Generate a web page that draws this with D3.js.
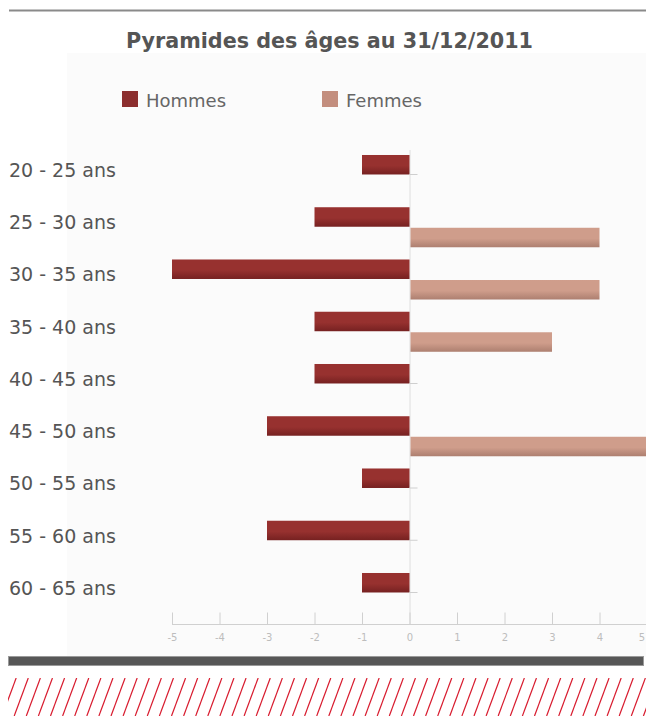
<!DOCTYPE html>
<html>
<head>
<meta charset="utf-8">
<script src="https://cdn.jsdelivr.net/npm/d3@7"></script>
<style>
  html, body { margin: 0; padding: 0; background: #ffffff; }
  svg { display: block; }
</style>
</head>
<body>
<svg id="chart" width="646" height="716"></svg>
<script>
// Age pyramid at 31/12/2011: head count by age group and sex
const categories = ["20 - 25 ans", "25 - 30 ans", "30 - 35 ans", "35 - 40 ans", "40 - 45 ans",
                    "45 - 50 ans", "50 - 55 ans", "55 - 60 ans", "60 - 65 ans"];
const hommes = [1, 2, 5, 2, 2, 3, 1, 3, 1];
const femmes = [0, 4, 4, 3, 0, 5, 0, 0, 0];
const seriesNames = ["Hommes", "Femmes"];
const tickValues = [-5, -4, -3, -2, -1, 0, 1, 2, 3, 4, 5];

const colors = { Hommes: ["#97312f", "#762121"], Femmes: ["#cf9d8b", "#ad7f70"] };
const legendColors = { Hommes: "#8c2e2e", Femmes: "#c38e7e" };

const svg = d3.select("#chart");
const W = 646, H = 716;

// frame: top rule, light panel, bottom band, red hatching
svg.append("line").attr("x1", 9).attr("x2", W).attr("y1", 10.5).attr("y2", 10.5)
  .attr("stroke", "#8a8a8a").attr("stroke-width", 2);
svg.append("rect").attr("x", 67).attr("y", 53).attr("width", W - 67).attr("height", 604)
  .attr("fill", "#fbfbfb");

svg.append("text")
  .attr("x", 329.5).attr("y", 48)
  .attr("text-anchor", "middle")
  .attr("font-family", "'DejaVu Sans', sans-serif")
  .attr("font-weight", "bold")
  .attr("font-size", 20.7)
  .attr("fill", "#555555")
  .text("Pyramides des âges au 31/12/2011");

// legend
const legendX = [122, 322];
seriesNames.forEach((name, i) => {
  const g = svg.append("g").attr("transform", `translate(${legendX[i]},91)`);
  g.append("rect").attr("width", 16).attr("height", 16).attr("fill", legendColors[name]);
  g.append("text").attr("x", 24).attr("y", 16)
    .attr("font-family", "'DejaVu Sans', sans-serif").attr("font-size", 18)
    .attr("fill", "#666666").text(name);
});

// gradients for a subtle shaded look on the bars
const defs = svg.append("defs");
seriesNames.forEach(name => {
  const lg = defs.append("linearGradient").attr("id", "grad-" + name)
    .attr("x1", 0).attr("x2", 0).attr("y1", 0).attr("y2", 1);
  lg.append("stop").attr("offset", "0%").attr("stop-color", colors[name][0]);
  lg.append("stop").attr("offset", "55%").attr("stop-color", colors[name][0]);
  lg.append("stop").attr("offset", "100%").attr("stop-color", colors[name][1]);
});

// scales
const x = d3.scaleLinear().domain([-5, 5]).range([172, 647]);
const y = d3.scaleBand().domain(categories).range([148.875, 619.125])
  .paddingInner(0.234).paddingOuter(0.117);
const ySub = d3.scaleBand().domain(seriesNames).range([0, y.bandwidth()]).paddingInner(0.05);

// zero line
svg.append("line").attr("x1", x(0) + 0.5).attr("x2", x(0) + 0.5)
  .attr("y1", 150).attr("y2", 624).attr("stroke", "#dedede").attr("stroke-width", 1);

// x axis with ticks pointing up
const axis = svg.append("g").attr("transform", "translate(0,624.5)")
  .call(d3.axisBottom(x).tickValues(tickValues).tickSize(-12).tickPadding(9)
    .tickFormat(d => String(d)));
axis.select(".domain").attr("stroke", "#d0d0d0").attr("d", `M${x(-5)},0H${W}`);
axis.selectAll(".tick line").attr("stroke", "#d0d0d0");
axis.selectAll(".tick text").attr("fill", "#bdbdbd").attr("font-size", 10)
  .attr("font-family", "'DejaVu Sans', sans-serif")
  .attr("text-anchor", d => d === 5 ? "end" : "middle")
  .attr("dx", d => d === 5 ? -2.5 : 0);

// category labels
svg.append("g").selectAll("text").data(categories).join("text")
  .attr("x", 9).attr("y", d => y(d) + 15)
  .attr("dy", "0.36em")
  .attr("font-family", "'DejaVu Sans', sans-serif").attr("font-size", 19)
  .attr("fill", "#555555").text(d => d);

// bars
const rows = categories.map((c, i) => ({ cat: c, Hommes: hommes[i], Femmes: femmes[i] }));
const barG = svg.append("g");
rows.forEach(r => {
  // men to the left of zero
  barG.append("rect")
    .attr("x", x(-r.Hommes)).attr("y", y(r.cat) + ySub("Hommes"))
    .attr("width", x(0) - x(-r.Hommes)).attr("height", ySub.bandwidth())
    .attr("fill", "url(#grad-Hommes)");
  if (r.Femmes > 0) {
    barG.append("rect")
      .attr("x", x(0) + 1).attr("y", y(r.cat) + ySub("Femmes"))
      .attr("width", x(r.Femmes) - x(0) - 1).attr("height", ySub.bandwidth())
      .attr("fill", "url(#grad-Femmes)");
  } else {
    // empty group: small stub at the zero line
    barG.append("line")
      .attr("x1", x(0)).attr("x2", x(0) + 8)
      .attr("y1", y(r.cat) + ySub("Femmes") - 1).attr("y2", y(r.cat) + ySub("Femmes") - 1)
      .attr("stroke", "#cfcfcf").attr("stroke-width", 1);
  }
});

// bottom band
svg.append("rect").attr("x", 8.5).attr("y", 656.5).attr("width", 635).attr("height", 9)
  .attr("fill", "#575757").attr("stroke", "#9a9a9a").attr("stroke-width", 1);

// red diagonal hatching
const hatch = svg.append("g");
const hy0 = 678, hy1 = 716, slope = 0.37;
hatch.append("clipPath").attr("id", "hclip").append("rect")
  .attr("x", 8).attr("y", hy0).attr("width", W - 8).attr("height", hy1 - hy0);
const hg = hatch.append("g").attr("clip-path", "url(#hclip)");
d3.range(-10, W + 10, 12.1).forEach(x0 => {
  hg.append("line")
    .attr("x1", x0).attr("y1", hy1)
    .attr("x2", x0 + slope * (hy1 - hy0)).attr("y2", hy0)
    .attr("stroke", "#d81b2e").attr("stroke-width", 1.2);
});
</script>
</body>
</html>
